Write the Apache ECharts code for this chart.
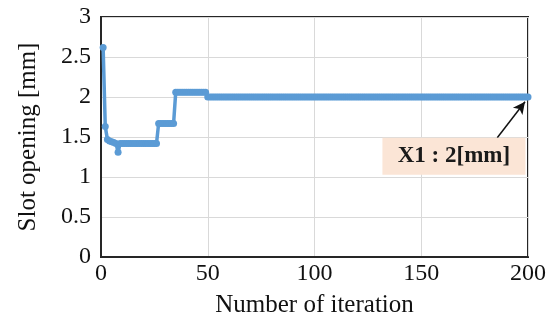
<!DOCTYPE html>
<html>
<head>
<meta charset="utf-8">
<script src="https://cdn.jsdelivr.net/npm/echarts@6/dist/echarts.min.js"></script>
<style>
  html, body { margin: 0; padding: 0; background: #fff; }
  #chart { width: 555px; height: 326px; }
</style>
</head>
<body>
<div id="chart"></div>
<script>
// Slot opening X1 [mm] recorded at each optimisation iteration
const iterations = [];
for (let i = 1; i <= 200; i++) iterations.push(i);

const slotOpening = [
  2.62, 1.63, 1.47, 1.45, 1.44, 1.43, 1.42, 1.31, 1.42, 1.42,
  1.42, 1.42, 1.42, 1.42, 1.42, 1.42, 1.42, 1.42, 1.42, 1.42,
  1.42, 1.42, 1.42, 1.42, 1.42, 1.42, 1.67, 1.67, 1.67, 1.67,
  1.67, 1.67, 1.67, 1.67, 2.06, 2.06, 2.06, 2.06, 2.06, 2.06,
  2.06, 2.06, 2.06, 2.06, 2.06, 2.06, 2.06, 2.06, 2.06, 2.0,
  2.0, 2.0, 2.0, 2.0, 2.0, 2.0, 2.0, 2.0, 2.0, 2.0,
  2.0, 2.0, 2.0, 2.0, 2.0, 2.0, 2.0, 2.0, 2.0, 2.0,
  2.0, 2.0, 2.0, 2.0, 2.0, 2.0, 2.0, 2.0, 2.0, 2.0,
  2.0, 2.0, 2.0, 2.0, 2.0, 2.0, 2.0, 2.0, 2.0, 2.0,
  2.0, 2.0, 2.0, 2.0, 2.0, 2.0, 2.0, 2.0, 2.0, 2.0,
  2.0, 2.0, 2.0, 2.0, 2.0, 2.0, 2.0, 2.0, 2.0, 2.0,
  2.0, 2.0, 2.0, 2.0, 2.0, 2.0, 2.0, 2.0, 2.0, 2.0,
  2.0, 2.0, 2.0, 2.0, 2.0, 2.0, 2.0, 2.0, 2.0, 2.0,
  2.0, 2.0, 2.0, 2.0, 2.0, 2.0, 2.0, 2.0, 2.0, 2.0,
  2.0, 2.0, 2.0, 2.0, 2.0, 2.0, 2.0, 2.0, 2.0, 2.0,
  2.0, 2.0, 2.0, 2.0, 2.0, 2.0, 2.0, 2.0, 2.0, 2.0,
  2.0, 2.0, 2.0, 2.0, 2.0, 2.0, 2.0, 2.0, 2.0, 2.0,
  2.0, 2.0, 2.0, 2.0, 2.0, 2.0, 2.0, 2.0, 2.0, 2.0,
  2.0, 2.0, 2.0, 2.0, 2.0, 2.0, 2.0, 2.0, 2.0, 2.0,
  2.0, 2.0, 2.0, 2.0, 2.0, 2.0, 2.0, 2.0, 2.0, 2.0
];

const xTicks = [0, 50, 100, 150, 200];
const yTicks = [0, 0.5, 1, 1.5, 2, 2.5, 3];

const finalLabel = 'X1 : 2[mm]';
const finalValue = 2.0;

const points = iterations.map((it, i) => [it, slotOpening[i]]);

const serif = '"Liberation Serif", "DejaVu Serif", serif';
const chart = echarts.init(document.getElementById('chart'), null, { renderer: 'canvas' });

chart.setOption({
  animation: false,
  backgroundColor: '#ffffff',
  grid: {
    left: 101, right: 27, top: 17, bottom: 69,
    show: true, borderColor: '#262626', borderWidth: 2
  },
  xAxis: {
    type: 'value',
    min: xTicks[0], max: xTicks[xTicks.length - 1], interval: 50,
    name: 'Number of iteration',
    nameLocation: 'middle', nameGap: 36,
    nameTextStyle: { fontFamily: serif, fontSize: 25, color: '#111' },
    axisLine: { show: true, onZero: false, lineStyle: { color: '#262626', width: 2 } },
    axisTick: { show: false },
    axisLabel: { fontFamily: serif, fontSize: 24, color: '#111', margin: 5 },
    splitLine: { show: true, lineStyle: { color: '#d9d9d9', width: 1 } }
  },
  yAxis: {
    type: 'value',
    min: yTicks[0], max: yTicks[yTicks.length - 1], interval: 0.5,
    name: 'Slot opening [mm]',
    nameLocation: 'middle', nameGap: 60, nameRotate: 90,
    nameTextStyle: { fontFamily: serif, fontSize: 25, color: '#111' },
    axisLine: { show: true, onZero: false, lineStyle: { color: '#262626', width: 2 } },
    axisTick: { show: false },
    axisLabel: { fontFamily: serif, fontSize: 24, color: '#111', margin: 10 },
    splitLine: { show: true, lineStyle: { color: '#d9d9d9', width: 1 } }
  },
  series: [{
    type: 'line',
    data: points,
    symbol: 'circle',
    symbolSize: 7,
    showAllSymbol: true,
    lineStyle: { color: '#5b9bd5', width: 3.5 },
    itemStyle: { color: '#5b9bd5', borderWidth: 0 },
    z: 3,
    markPoint: {
      silent: true,
      data: [{
        coord: [165.3, 1.26],
        symbol: 'rect',
        symbolSize: [143, 37],
        itemStyle: { color: '#fbe5d6' },
        label: {
          show: true,
          position: 'inside',
          formatter: finalLabel,
          fontFamily: serif,
          fontSize: 23,
          fontWeight: 'bold',
          color: '#1a1a1a'
        }
      }]
    },
    markLine: {
      silent: true,
      label: { show: false },
      lineStyle: { color: '#111', width: 1.5, type: 'solid' },
      data: [[
        { coord: [185.6, 1.49], symbol: 'none', symbolSize: 1 },
        { coord: [198.6, finalValue - 0.06], symbol: 'arrow', symbolSize: [9, 12] }
      ]]
    }
  }]
});
</script>
</body>
</html>
